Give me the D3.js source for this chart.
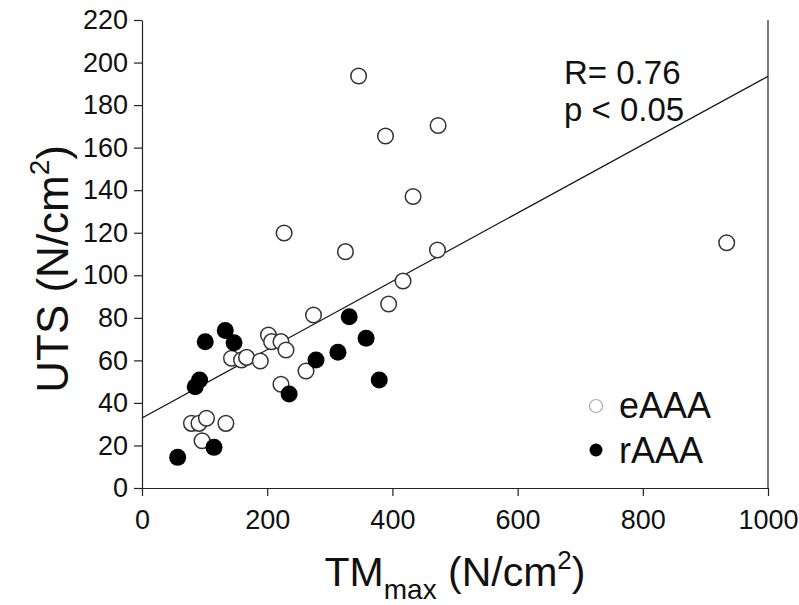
<!DOCTYPE html>
<head>
  <meta charset="utf-8">
  <script src="https://d3js.org/d3.v7.min.js"></script>
  <style>
    body { margin: 0; background: white; }
    svg { display: block; font-family: "Liberation Sans", Arial, sans-serif; }
    .axis text { font-size: 27px; fill: #111; }
    .axis path, .axis line { stroke: #222; stroke-width: 1.2; }
  </style>
</head>

<body>
  <svg width="799" height="605"></svg>

  <script>
    // eAAA (open) and rAAA (filled), TMmax vs UTS, both N/cm2
    const eTM  = [346, 389, 473, 433, 227, 325, 472, 417, 394, 274, 934, 202, 207, 222, 230, 143, 159, 167, 189, 262, 222, 79, 91, 103, 134, 96];
    const eUTS = [193.7, 165.5, 170.4, 137, 119.9, 111.1, 111.9, 97.3, 86.5, 81.3, 115.3, 71.9, 68.8, 68.8, 64.9, 61, 60.2, 61.4, 59.7, 55, 48.8, 30.4, 30.4, 32.8, 30.4, 22.2];
    const rTM  = [101, 133, 147, 92, 85, 331, 358, 313, 278, 235, 379, 115, 57];
    const rUTS = [68.8, 74, 68.3, 50.8, 47.6, 80.5, 70.4, 63.8, 60.2, 44.2, 50.8, 19.1, 14.4];

    const xTicks = [0, 200, 400, 600, 800, 1000];
    const yTicks = [0, 20, 40, 60, 80, 100, 120, 140, 160, 180, 200, 220];

    // regression line end points
    const fitX = [0, 1000];
    const fitY = [32.9, 193.5];

    const statLines = ['R= 0.76', 'p < 0.05'];
    const groups = ['eAAA', 'rAAA'];

    const svg = d3.select('svg');
    const mLeft = 142, mRight = 768, mTop = 20, mBottom = 488;

    const x = d3.scaleLinear().domain([0, 1000]).range([mLeft, mRight]);
    const y = d3.scaleLinear().domain([0, 220]).range([mBottom, mTop]);

    svg.append('g')
      .attr('class', 'axis')
      .attr('transform', `translate(0,${mBottom})`)
      .call(d3.axisBottom(x).tickValues(xTicks).tickSize(8).tickSizeOuter(0).tickPadding(14).tickFormat(d3.format('d')));

    svg.append('g')
      .attr('class', 'axis')
      .attr('transform', `translate(${mLeft},0)`)
      .call(d3.axisLeft(y).tickValues(yTicks).tickSize(8).tickSizeOuter(0).tickPadding(6).tickFormat(d3.format('d')));

    // right frame line
    svg.append('line')
      .attr('x1', mRight).attr('x2', mRight)
      .attr('y1', y(220)).attr('y2', y(0))
      .attr('stroke', '#222').attr('stroke-width', 1.2);

    // fit line
    svg.append('line')
      .attr('x1', x(fitX[0])).attr('y1', y(fitY[0]))
      .attr('x2', x(fitX[1])).attr('y2', y(fitY[1]))
      .attr('stroke', '#111').attr('stroke-width', 1.2);

    const eData = eTM.map((v, i) => [v, eUTS[i]]);
    const rData = rTM.map((v, i) => [v, rUTS[i]]);

    svg.append('g').selectAll('circle')
      .data(eData)
      .enter().append('circle')
      .attr('cx', d => x(d[0]))
      .attr('cy', d => y(d[1]))
      .attr('r', 7.8)
      .attr('fill', 'white')
      .attr('stroke', '#333')
      .attr('stroke-width', 1.5);

    svg.append('g').selectAll('circle')
      .data(rData)
      .enter().append('circle')
      .attr('cx', d => x(d[0]))
      .attr('cy', d => y(d[1]))
      .attr('r', 8.5)
      .attr('fill', 'black');

    // stats text
    svg.append('g').selectAll('text')
      .data(statLines)
      .enter().append('text')
      .attr('x', 564)
      .attr('y', (d, i) => 84 + i * 37)
      .attr('font-size', 33)
      .attr('fill', '#111')
      .text(d => d);

    // legend
    const leg = svg.append('g');
    leg.append('circle').attr('cx', 596).attr('cy', 406).attr('r', 6.5)
      .attr('fill', 'white').attr('stroke', '#aaa').attr('stroke-width', 1.2);
    leg.append('circle').attr('cx', 596).attr('cy', 450).attr('r', 6.5)
      .attr('fill', 'black');
    leg.selectAll('text')
      .data(groups)
      .enter().append('text')
      .attr('x', 619)
      .attr('y', (d, i) => 418 + i * 45)
      .attr('font-size', 36)
      .attr('fill', '#111')
      .text(d => d);

    // x title
    const xt = svg.append('text')
      .attr('x', x(500)).attr('y', 586)
      .attr('text-anchor', 'middle')
      .attr('font-size', 41)
      .attr('fill', '#111');
    xt.append('tspan').text('TM');
    xt.append('tspan').attr('font-size', 28).attr('dy', 13).text('max');
    xt.append('tspan').attr('dy', -13).text(' (N/cm');
    xt.append('tspan').attr('font-size', 26).attr('dy', -17).text('2');
    xt.append('tspan').attr('dy', 17).text(')');

    // y title
    const yt = svg.append('text')
      .attr('transform', `translate(68,${y(103)}) rotate(-90)`)
      .attr('text-anchor', 'middle')
      .attr('font-size', 44)
      .attr('fill', '#111');
    yt.append('tspan').text('UTS (N/cm');
    yt.append('tspan').attr('font-size', 28).attr('dy', -19).text('2');
    yt.append('tspan').attr('dy', 19).text(')');
  </script>
</body>
